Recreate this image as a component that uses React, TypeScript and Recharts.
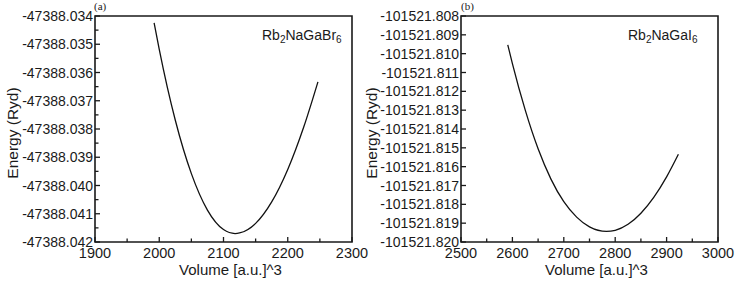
import React from 'react';
import { LineChart, Line, XAxis, YAxis, ReferenceArea, Label } from 'recharts';

// panel (a): Rb2NaGaBr6
const volumeA = [1992, 2000, 2025, 2050, 2075, 2100, 2118, 2125, 2150, 2175, 2200, 2225, 2247];
const energyA = [
  -47388.03424, -47388.03518, -47388.03769, -47388.03958, -47388.04087, -47388.04156, -47388.0417,
  -47388.04168, -47388.04134, -47388.04058, -47388.03943, -47388.03792, -47388.03633,
];
const xMajorA = [1900, 2000, 2100, 2200, 2300];
const xTicksA = [1900, 1950, 2000, 2050, 2100, 2150, 2200, 2250, 2300];
const yMajorA = [
  -47388.034, -47388.035, -47388.036, -47388.037, -47388.038, -47388.039, -47388.04, -47388.041, -47388.042,
];
const yTicksA = [
  -47388.034, -47388.0345, -47388.035, -47388.0355, -47388.036, -47388.0365, -47388.037, -47388.0375,
  -47388.038, -47388.0385, -47388.039, -47388.0395, -47388.04, -47388.0405, -47388.041, -47388.0415,
  -47388.042,
];

// panel (b): Rb2NaGaI6
const volumeB = [2591, 2600, 2625, 2650, 2675, 2700, 2725, 2750, 2783, 2800, 2825, 2850, 2875, 2900, 2923];
const energyB = [
  -101521.80953, -101521.81053, -101521.813, -101521.81505, -101521.81666, -101521.81786, -101521.81868,
  -101521.8192, -101521.81944, -101521.81938, -101521.81906, -101521.81847, -101521.81763, -101521.81654,
  -101521.81534,
];
const xMajorB = [2500, 2600, 2700, 2800, 2900, 3000];
const xTicksB = [2500, 2550, 2600, 2650, 2700, 2750, 2800, 2850, 2900, 2950, 3000];
const yTicksB = [
  -101521.808, -101521.809, -101521.81, -101521.811, -101521.812, -101521.813, -101521.814,
  -101521.815, -101521.816, -101521.817, -101521.818, -101521.819, -101521.82,
];

const FONT = '"Liberation Sans", Arial, sans-serif';
const INK = '#1a1a1a';

const XTick = ({ x, y, payload, majors }: any) => {
  const major = majors.includes(payload.value);
  return (
    <g>
      <line x1={x} x2={x} y1={y} y2={y - (major ? 5 : 3.5)} stroke={INK} strokeWidth={1.3} />
      {major && (
        <text x={x} y={y + 15.5} textAnchor="middle" fontSize={14.5} fontFamily={FONT} fill={INK}>
          {payload.value}
        </text>
      )}
    </g>
  );
};

const YTick = ({ x, y, payload, majors }: any) => {
  const major = majors.includes(payload.value);
  return (
    <g>
      <line x1={x} x2={x + (major ? 5 : 3.5)} y1={y} y2={y} stroke={INK} strokeWidth={1.3} />
      {major && (
        <text x={x - 2} y={y + 5} textAnchor="end" fontSize={14} fontFamily={FONT} fill={INK}>
          {payload.value.toFixed(3)}
        </text>
      )}
    </g>
  );
};

function Panel({ volumes, energies, xDomain, yDomain, xTicks, xMajors, yTicks, yMajors, width, yWidth, right, titleOffset }: any) {
  const data = volumes.map((v: number, i: number) => ({ v, e: energies[i] }));
  return (
    <LineChart width={width} height={281} data={data} margin={{ top: 16, right, bottom: 0, left: 0 }}>
      <XAxis
        dataKey="v"
        type="number"
        domain={xDomain}
        ticks={xTicks}
        interval={0}
        allowDataOverflow
        axisLine={false}
        tickLine={false}
        tickSize={0}
        tickMargin={0}
        height={39}
        tick={<XTick majors={xMajors} />}
      >
        <Label value="Volume [a.u.]^3" position="insideBottom" offset={6} dx={7} fontSize={15} fontFamily={FONT} fill={INK} />
      </XAxis>
      <YAxis
        type="number"
        domain={yDomain}
        ticks={yTicks}
        interval={0}
        allowDataOverflow
        axisLine={false}
        tickLine={false}
        tickSize={0}
        tickMargin={0}
        width={yWidth}
        tick={<YTick majors={yMajors} />}
      >
        <Label
          value="Energy (Ryd)"
          angle={-90}
          position="insideLeft"
          offset={titleOffset}
          dy={4}
          fontSize={15.5}
          fontFamily={FONT}
          fill={INK}
          style={{ textAnchor: 'middle' }}
        />
      </YAxis>
      <ReferenceArea
        x1={xDomain[0]}
        x2={xDomain[1]}
        y1={yDomain[0]}
        y2={yDomain[1]}
        fill="none"
        stroke={INK}
        strokeWidth={1.6}
        ifOverflow="visible"
      />
      <Line type="monotone" dataKey="e" stroke="#111" strokeWidth={1.3} dot={false} isAnimationActive={false} />
    </LineChart>
  );
}

const compoundStyle: React.CSSProperties = {
  position: 'absolute',
  top: 27.6,
  fontFamily: FONT,
  fontSize: 14,
  lineHeight: '14px',
  color: INK,
  whiteSpace: 'nowrap',
};
const subStyle: React.CSSProperties = { fontSize: 10, position: 'relative', top: 3 };
const tagStyle: React.CSSProperties = {
  position: 'absolute',
  top: 1,
  fontFamily: '"Liberation Serif", "Times New Roman", serif',
  fontSize: 11,
  lineHeight: '11px',
  color: INK,
};

export default function App() {
  return (
    <div style={{ position: 'relative', width: 735, height: 281, background: '#fff', overflow: 'hidden' }}>
      <style>{`body{margin:0}`}</style>
      <div style={{ position: 'absolute', left: 0, top: 0 }}>
        <Panel
          volumes={volumeA}
          energies={energyA}
          xDomain={[1900, 2300]}
          yDomain={[-47388.042, -47388.034]}
          xTicks={xTicksA}
          xMajors={xMajorA}
          yTicks={yTicksA}
          yMajors={yMajorA}
          width={382}
          yWidth={95}
          right={30}
          titleOffset={12}
        />
      </div>
      <div style={{ position: 'absolute', left: 355, top: 0 }}>
        <Panel
          volumes={volumeB}
          energies={energyB}
          xDomain={[2500, 3000]}
          yDomain={[-101521.82, -101521.808]}
          xTicks={xTicksB}
          xMajors={xMajorB}
          yTicks={yTicksB}
          yMajors={yTicksB}
          width={380}
          yWidth={106}
          right={17}
          titleOffset={16}
        />
      </div>
      <div style={{ ...tagStyle, left: 94 }}>(a)</div>
      <div style={{ ...tagStyle, left: 461 }}>(b)</div>
      <div style={{ ...compoundStyle, left: 262 }}>
        Rb<span style={subStyle}>2</span>NaGaBr<span style={subStyle}>6</span>
      </div>
      <div style={{ ...compoundStyle, left: 628 }}>
        Rb<span style={subStyle}>2</span>NaGaI<span style={subStyle}>6</span>
      </div>
    </div>
  );
}
